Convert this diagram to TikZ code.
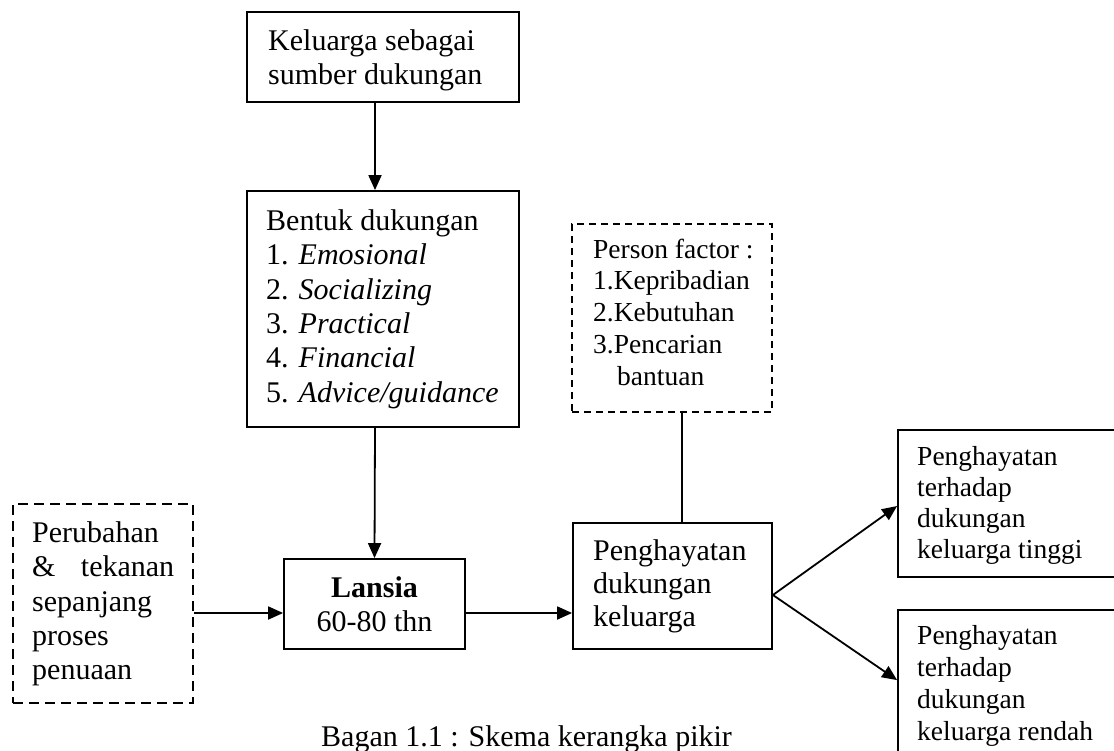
\documentclass[tikz,border=0pt]{standalone}
\usepackage{fontspec}
\setmainfont{Liberation Serif}
\usetikzlibrary{arrows.meta}
\newcommand{\fla}{\rule{0pt}{22pt}}
\newcommand{\flb}{\rule{0pt}{20pt}}
\tikzset{
  box/.style={draw, line width=1.8pt, inner sep=0pt},
  dboxa/.style={box, dash pattern=on 10pt off 6pt},
  dboxb/.style={box, dash pattern=on 7pt off 5pt},
  bigtxt/.style={font=\fontsize{30}{34.4}\selectfont, align=left, inner sep=0pt, anchor=north west},
  smalltxt/.style={font=\fontsize{27.5}{31.7}\selectfont, align=left, inner sep=0pt, anchor=north west},
  arr/.style={line width=1.8pt, -{Triangle[length=15pt,width=13pt]}},
  plain/.style={line width=1.8pt},
}
\begin{document}
\begin{tikzpicture}[x=1pt,y=-1pt]
\useasboundingbox (0,0) rectangle (1114,751);
\fill[white] (0,0) rectangle (1114,751);
\clip (0,0) rectangle (1114,751);

% boxes
\node[box, minimum width=272pt, minimum height=90pt] (top) at (383,57) {};
\node[box, minimum width=272pt, minimum height=236pt] (bentuk) at (383,309) {};
\node[dboxa, minimum width=180pt, minimum height=199pt] (left) at (103,603.5) {};
\node[box, minimum width=181pt, minimum height=90pt] (lansia) at (374.5,604) {};
\node[dboxb, minimum width=200pt, minimum height=188pt] (pf) at (672,318) {};
\node[box, minimum width=199pt, minimum height=126pt] (peng) at (672.5,586) {};
\node[box, minimum width=240pt, minimum height=147pt] (out1) at (1018,503.5) {};
\node[box, minimum width=240pt, minimum height=160pt] (out2) at (1018,690) {};

% texts
\node[bigtxt] (ttop) at (268,28) {\fla Keluarga sebagai\\sumber dukungan};
\node[bigtxt] (tbentuk) at (266,208) {\fla Bentuk dukungan\\1. \textit{Emosional}\\2. \textit{Socializing}\\3. \textit{Practical}\\4. \textit{Financial}\\5. \textit{Advice/guidance}};
\node[bigtxt] (tleft) at (32,520) {\fla Perubahan\\\makebox[142pt][l]{\&\hfill tekanan}\\sepanjang\\proses\\penuaan};
\node[bigtxt, align=center, anchor=north] (tlansia) at (374.5,575) {\fla\textbf{Lansia}\\60-80 thn};
\node[smalltxt] (tpf) at (593,238) {\flb Person factor :\\1.Kepribadian\\2.Kebutuhan\\3.Pencarian\\\hspace*{24pt}bantuan};
\node[bigtxt, font=\fontsize{30}{33}\selectfont] (tpeng) at (593,538) {\fla Penghayatan\\dukungan\\keluarga};
\node[smalltxt, font=\fontsize{27.5}{31}\selectfont] (tout1) at (917,445) {\flb Penghayatan\\terhadap\\dukungan\\keluarga tinggi};
\node[smalltxt, font=\fontsize{27.5}{32}\selectfont] (tout2) at (917,624) {\flb Penghayatan\\terhadap\\dukungan\\keluarga rendah};
\node[bigtxt] (caption) at (321,724) {\fla Bagan 1.1 : Skema kerangka pikir};

% connectors
\coordinate (ya) at (0,613);
\coordinate (fork) at (peng.east |- 0,595);
\draw[arr] ([xshift=-8pt]top.south) -- ([xshift=-8pt]bentuk.north);
\draw[arr] ([xshift=-8pt]bentuk.south) -- (lansia.north);
\draw[arr] (left.east |- ya) -- (lansia.west |- ya);
\draw[arr] (lansia.east |- ya) -- (peng.west |- ya);
\draw[plain] ([xshift=10pt]pf.south) -- ([xshift=9.5pt]peng.north);
\draw[arr] (fork) -- ([yshift=-2.5pt]out1.west);
\draw[arr] (fork) -- ([yshift=-71pt]out2.north west);
\end{tikzpicture}
\end{document}
